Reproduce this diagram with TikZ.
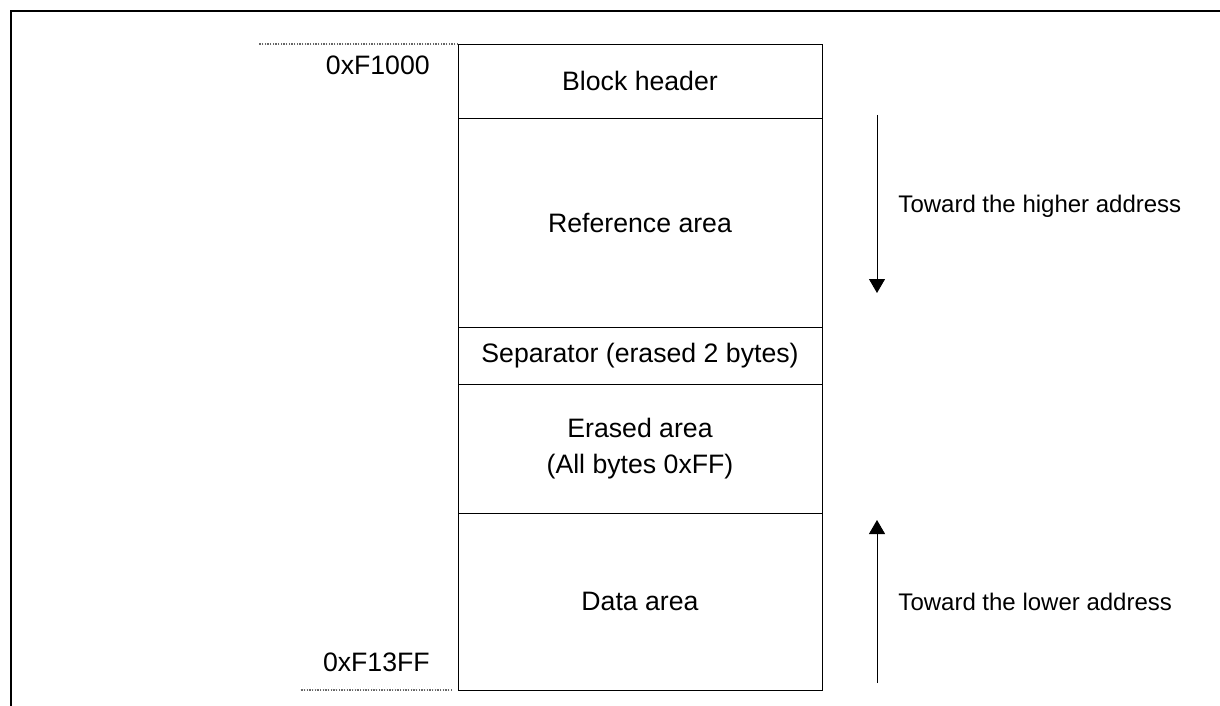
\documentclass[tikz,border=0pt]{standalone}
\usepackage{fontspec}
\setmainfont{Liberation Sans}
\usetikzlibrary{positioning,arrows.meta}

\begin{document}
\begin{tikzpicture}
	% Define styles
	\tikzstyle{area} = [rectangle, draw, line width=0.7pt, minimum width=273pt,
	inner sep=0pt, outer sep=0pt, align=center, font=\fontsize{20}{27.5}\selectfont]
	\tikzstyle{addr} = [inner sep=0pt, font=\fontsize{20}{24}\selectfont]
	\tikzstyle{note} = [inner sep=0pt, font=\fontsize{18}{22}\selectfont]
	\tikzstyle{guide} = [black!60, dash pattern=on 1pt off 1pt, line width=0.9pt]
	\tikzstyle{arrow} = [line width=0.7pt, -{Triangle[width=12pt,length=10.5pt]}]
	
	\useasboundingbox (0,0) rectangle (915pt,-529.5pt);
	
	% Frame
	\coordinate (framebl) at (8pt,-529.5pt);
	\coordinate (frametl) at (8pt,-8.25pt);
	\coordinate (frametr) at (915pt,-8.25pt);
	\draw [line width=1.6pt] (framebl) -- (frametl) -- (frametr);
	
	% Place nodes
	\node [area, minimum height=55.5pt, anchor=north west] (header) at (343.5pt,-33pt) {Block header};
	\node [area, minimum height=156.75pt, below=0pt of header] (refer) {Reference area};
	\node [area, minimum height=42.75pt, below=0pt of refer] (separator) {Separator (erased 2 bytes)};
	\node [area, minimum height=96.75pt, below=0pt of separator] (erased) {Erased area\\(All bytes 0xFF)};
	\node [area, minimum height=132.75pt, below=0pt of erased] (data) {Data area};
	
	\node [addr, left=21pt of header.north west, yshift=-15.75pt] (topaddr) {0xF1000};
	\node [addr, left=21pt of data.south west, yshift=21pt] (bottomaddr) {0xF13FF};
	
	% Dotted guides
	\coordinate [left=149.25pt of header.north west] (topguide);
	\coordinate [left=4.5pt of data.south west] (botguidea);
	\coordinate [left=118.5pt of data.south west] (botguideb);
	\draw [guide] (header.north west) -- (topguide);
	\draw [guide] (botguidea) -- (botguideb);
	
	% Draw arrows
	\coordinate [right=41.25pt of refer.north east, yshift=2.25pt] (downstart);
	\coordinate [below=133.5pt of downstart] (downend);
	\coordinate [right=41.25pt of data.south east, yshift=5.25pt] (upstart);
	\coordinate [above=122.25pt of upstart] (upend);
	\draw [arrow] (downstart) -- node [note, right=15.75pt, yshift=-2pt] {Toward the higher address} (downend);
	\draw [arrow] (upstart) -- node [note, right=15.75pt] {Toward the lower address} (upend);
\end{tikzpicture}
\end{document}
